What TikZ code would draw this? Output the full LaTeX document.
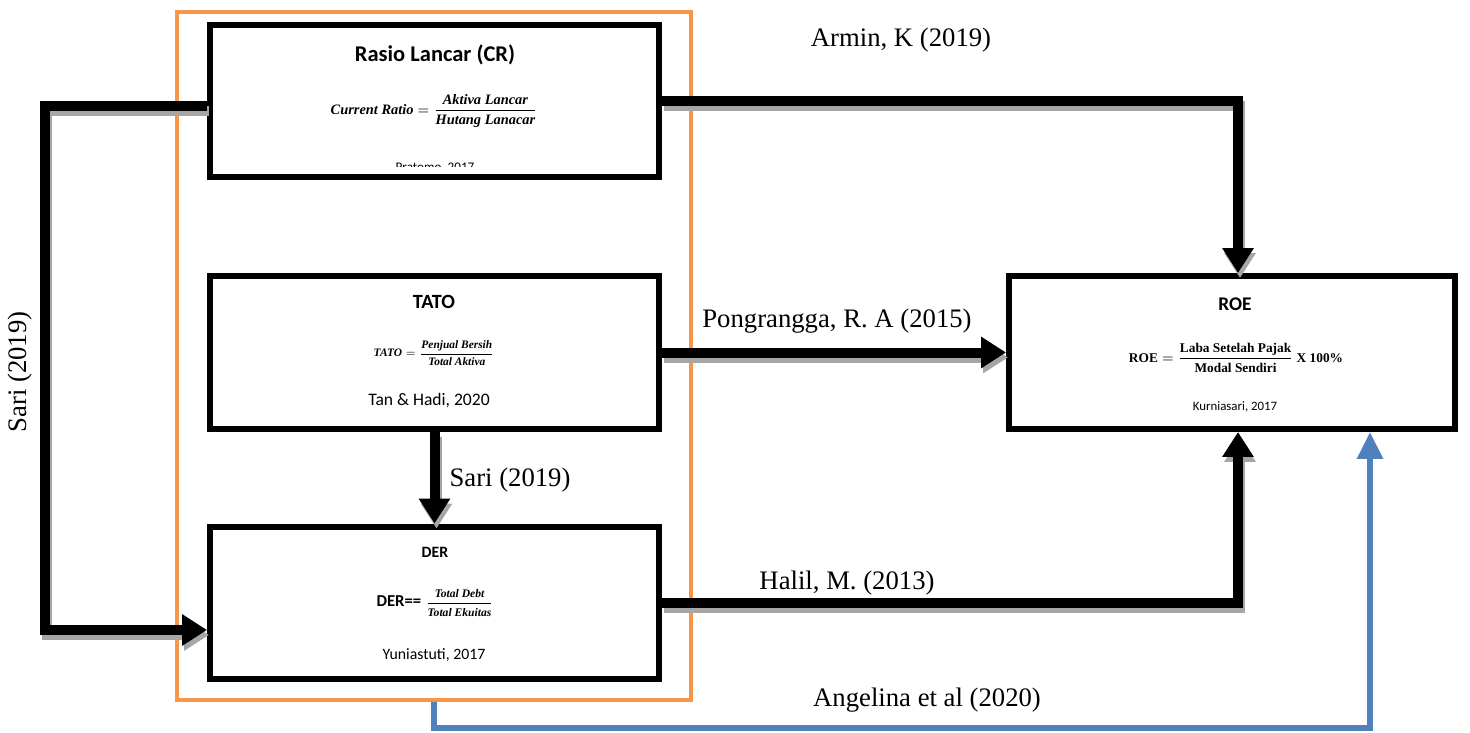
\documentclass[tikz,border=0pt]{standalone}
\usepackage{fontspec}
\setmainfont{Liberation Serif}
\newfontfamily\calibri{Carlito}
\usetikzlibrary{arrows.meta,calc}

\definecolor{frameorange}{RGB}{247,150,70}
\definecolor{linkblue}{RGB}{79,129,189}

\newcommand{\bfit}[1]{\mbox{\bfseries\itshape #1}}
\newcommand{\bfup}[1]{\mbox{\bfseries #1}}

\tikzset{box/.style={draw,line width=0.12cm,fill=white,minimum width=8.98cm,minimum height=3.06cm,inner sep=0},
box title/.style={font=\calibri\bfseries\fontsize{11.5}{13}\selectfont,inner sep=0},
box formula/.style={inner sep=0},
box source/.style={font=\calibri\fontsize{10}{12}\selectfont,inner sep=0},
link label/.style={font=\fontsize{15.2}{17}\selectfont,inner sep=0},
link/.style={line width=0.2cm,-{Triangle[width=0.6cm,length=0.5cm]},
  preaction={draw=black!35,line width=0.2cm,transform canvas={shift={(2,5)}}}},
blue link/.style={draw=linkblue,line width=0.12cm,-{Triangle[width=0.5cm,length=0.54cm]}}}

\begin{document}
\begin{tikzpicture}[x=0.02cm,y=-0.02cm]
\useasboundingbox (0,0) rectangle (1470,733);

%% orange frame round the three ratios
\node [draw=frameorange,line width=0.08cm,minimum width=10.28cm,minimum height=13.76cm,inner sep=0] (frame) at (434,356) {};

%% boxes
\node [box] (cr) at (434.5,101) {};
\node [box] (tato) at (434.5,352.5) {};
\node [box] (der) at (434.5,603) {};
\node [box,minimum width=8.92cm] (roe) at (1232,352.5) {};

%% helper coordinates
\coordinate (cr out) at ($(cr.west)+(0,5)$);
\coordinate (der in) at ($(der.west)+(0,27)$);
\coordinate (roe top in) at ($(roe.north)+(6,0)$);
\coordinate (roe bottom in) at ($(roe.south)+(6,0)$);
\coordinate (sari) at (45,0);
\coordinate (blue x) at (1370,0);

%% connectors
\draw [link] (cr.east) -| (roe top in);
\draw [link] (tato.east) -- (roe.west);
\draw [link] (tato.south) -- (der.north);
\draw [link] (der.east) -| (roe bottom in);
\draw [link] (cr out) -- (cr out -| sari) |- (der in);
\draw [blue link] (frame.south) -- ++(0,26) -| (roe.south -| blue x);

%% box texts
\node [box title,font=\calibri\bfseries\fontsize{12.8}{14}\selectfont] (cr title) at (435,55) {Rasio Lancar (CR)};
\node [box formula,font=\fontsize{8.2}{10}\selectfont] (cr formula) at (434,111) {$\bfit{Current Ratio}=\displaystyle\frac{\bfit{Aktiva Lancar}}{\bfit{Hutang Lanacar}}$};
\begin{scope}
\clip (213,28) rectangle (656,167);
\node [box source,font=\calibri\fontsize{7.5}{9}\selectfont] (cr source) at (435,168) {Pratomo, 2017};
\end{scope}

\node [box title] (tato title) at (434,302) {TATO};
\node [box formula,font=\fontsize{6.5}{8}\selectfont] (tato formula) at (434,353) {$\bfit{TATO}=\displaystyle\frac{\bfit{Penjual Bersih}}{\bfit{Total Aktiva}}$};
\node [box source] (tato source) at (429,401) {Tan \& Hadi, 2020};

\node [box title,font=\calibri\bfseries\fontsize{9}{10}\selectfont] (der title) at (435,552) {DER};
\node [box formula] (der formula) at (435,603) {{\calibri\bfseries\fontsize{9.5}{11}\selectfont DER==} {\fontsize{6.6}{8}\selectfont$\displaystyle\frac{\bfit{Total Debt}}{\bfit{Total Ekuitas}}$}};
\node [box source,font=\calibri\fontsize{9}{11}\selectfont] (der source) at (434,655) {Yuniastuti, 2017};

\node [box title,font=\calibri\bfseries\fontsize{11}{13}\selectfont] (roe title) at (1235,304) {ROE};
\node [box formula,font=\fontsize{7.6}{9}\selectfont] (roe formula) at (1236,358) {$\bfup{ROE}=\displaystyle\frac{\bfup{Laba Setelah Pajak}}{\bfup{Modal Sendiri}}\ \bfup{X 100\%}$};
\node [box source,font=\calibri\fontsize{7.3}{9}\selectfont] (roe source) at (1235,407) {Kurniasari, 2017};

%% connector labels
\node [link label] (armin) at (901,40) {Armin, K (2019)};
\node [link label] (pongrangga) at (837,321) {Pongrangga, R. A (2015)};
\node [link label] (sari mid) at (510,480) {Sari (2019)};
\node [link label] (halil) at (847,583) {Halil, M. (2013)};
\node [link label] (angelina) at (927,700) {Angelina et al (2020)};
\node [link label,rotate=90] (sari left) at (20,372) {Sari (2019)};

\end{tikzpicture}
\end{document}
